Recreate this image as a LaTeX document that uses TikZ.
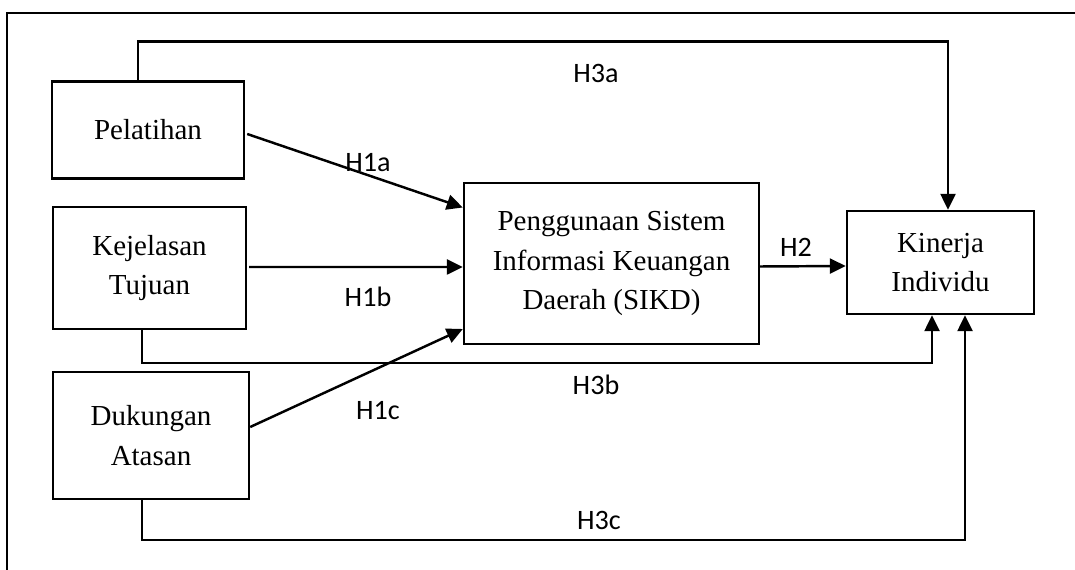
\documentclass[tikz,border=0pt]{standalone}
\usepackage{fontspec}
\setmainfont{Liberation Serif}
\newfontfamily\hypfont{Carlito}
\usetikzlibrary{arrows.meta, calc}
\tikzset{
    my-var/.style={
        draw, line width=1.4pt, align=center, inner sep=0pt,
        font=\fontsize{16.5}{22.5}\selectfont
    },
    my-hyp/.style={
        inner sep=0pt, font=\hypfont\fontsize{16}{18}\selectfont
    },
    my-wire/.style={
        line width=1.4pt
    },
    my-path/.style={
        line width=1.4pt, -{Triangle[length=0.32cm, width=0.3cm]}
    },
}

\begin{document}
\begin{tikzpicture}[x=0.02cm, y=-0.02cm]

        \useasboundingbox (0, 0) rectangle (1075, 570);
        \clip (0, 0) rectangle (1075, 570);

        % FRAME
        \draw[my-wire] (7, 13) rectangle (1100, 600);

        % INDEPENDENT VARIABLES
        \node[my-var, minimum width=3.84cm, minimum height=1.94cm] (PEL) at (148, 130)   {Pelatihan};
        \node[my-var, minimum width=3.86cm, minimum height=2.44cm] (KEJ) at (149.5, 268) {Kejelasan\\Tujuan};
        \node[my-var, minimum width=3.92cm, minimum height=2.54cm] (DUK) at (151, 435.5) {Dukungan\\Atasan};

        % INTERVENING AND DEPENDENT VARIABLES
        \node[my-var, minimum width=5.9cm, minimum height=3.22cm] (SIKD) at (611.5, 263.5) {Penggunaan Sistem\\Informasi Keuangan\\Daerah (SIKD)};
        \node[my-var, minimum width=3.74cm, minimum height=2.06cm] (KIN)  at (940.5, 262.5) {Kinerja\\Individu};

        % PATHS H1 AND H2
        \draw[my-path] ($(PEL.east) + (2, 4)$)    -- ($(SIKD.west) + (0, -56)$);
        \draw[my-path] ($(KEJ.east) + (2, -1)$)   -- ($(SIKD.west) + (0, 3.5)$);
        \draw[my-path] ($(DUK.east) + (0, -8.5)$) -- ($(SIKD.west) + (0, 65.5)$);
        \draw[my-path] ($(SIKD.east) + (0, 3)$)   -- ($(KIN.west) + (0, 3.5)$);

        % PATHS H3
        \draw[my-path] ($(PEL.north) + (-10, 0)$) -- ++(0, -39) -| ($(KIN.north) + (7.5, 0)$);
        \draw[my-path] ($(KEJ.south) + (-7.5, 0)$) -- ++(0, 33) -| ($(KIN.south) + (-8.5, 0)$);
        \draw[my-path] ($(DUK.south) + (-9, 0)$)  -- ++(0, 40) -| ($(KIN.south) + (24.5, 0)$);

        % HYPOTHESIS LABELS
        \node[my-hyp] (H1A) at (368, 163) {H1a};
        \node[my-hyp] (H1B) at (368, 297) {H1b};
        \node[my-hyp] (H1C) at (378, 411) {H1c};
        \node[my-hyp] (H2)  at (796, 247) {H2};
        \node[my-hyp] (H3A) at (596, 73)  {H3a};
        \node[my-hyp] (H3B) at (596, 385) {H3b};
        \node[my-hyp] (H3C) at (599, 520) {H3c};

    \end{tikzpicture}
\end{document}
